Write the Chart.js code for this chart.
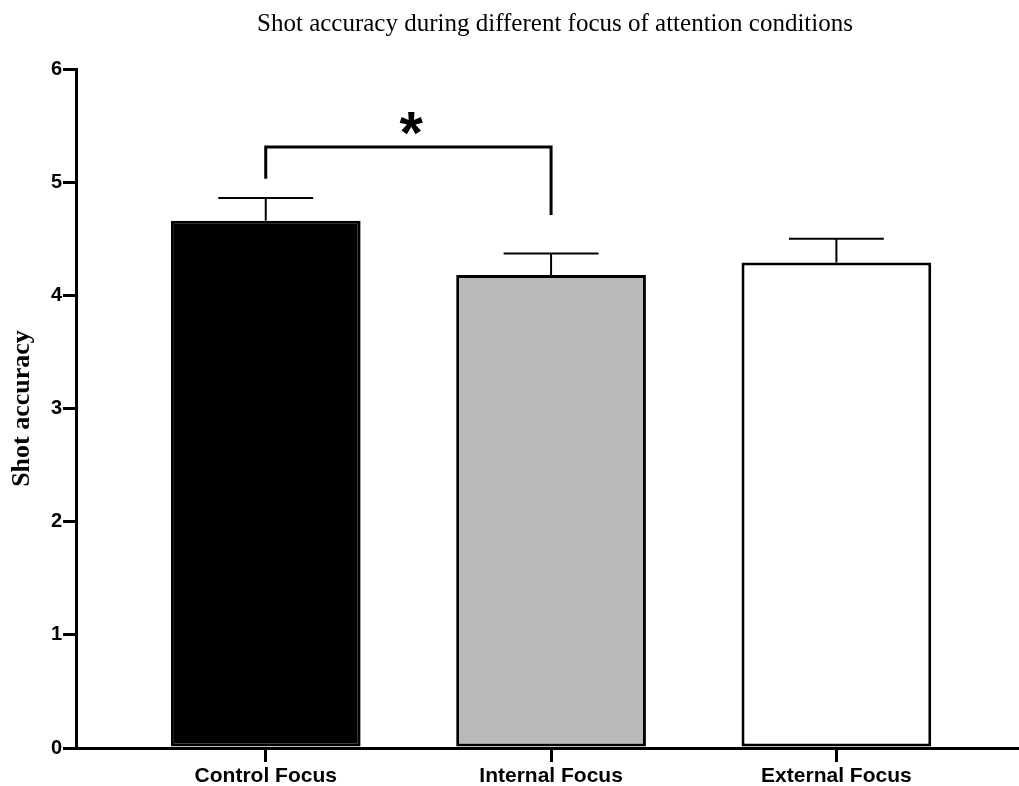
<!DOCTYPE html>
<html>
<head>
<meta charset="utf-8">
<title>Shot accuracy</title>
<script src="https://cdn.jsdelivr.net/npm/chart.js@4.4.1/dist/chart.umd.min.js"></script>
<style>
  html, body { margin: 0; padding: 0; background: #fff; }
  canvas { display: block; }
</style>
</head>
<body>
<canvas id="accuracyChart" width="1019" height="786"></canvas>
<script>
const conditions = ['Control Focus', 'Internal Focus', 'External Focus'];
const meanAccuracy = [4.66, 4.18, 4.29];
const semAccuracy = [0.2, 0.19, 0.21];
const yTicks = [0, 1, 2, 3, 4, 5, 6];

// significance bracket (Control vs Internal), heights in y units
const sigPair = [0, 1];
const sigBracketTop = 5.31;
const sigLegEnds = [5.03, 4.71];
const sigLabelLevel = 5.52;
const sigLabel = '*';

const chartTitle = 'Shot accuracy during different focus of attention conditions';

// upper error bars only, cap half as wide as the bar
const errorBars = {
  id: 'errorBars',
  afterDatasetsDraw(chart) {
    const ctx = chart.ctx;
    const y = chart.scales.y;
    const meta = chart.getDatasetMeta(0);
    ctx.save();
    ctx.strokeStyle = '#000';
    ctx.lineWidth = 2;
    meta.data.forEach((bar, i) => {
      const top = y.getPixelForValue(meanAccuracy[i] + semAccuracy[i]);
      const half = bar.width / 4;
      ctx.beginPath();
      ctx.moveTo(bar.x, bar.y);
      ctx.lineTo(bar.x, top);
      ctx.moveTo(bar.x - half, top);
      ctx.lineTo(bar.x + half, top);
      ctx.stroke();
    });
    ctx.restore();
  }
};

const sigBracket = {
  id: 'sigBracket',
  afterDatasetsDraw(chart) {
    const {ctx, scales: {x, y}} = chart;
    const x0 = x.getPixelForValue(sigPair[0]);
    const x1 = x.getPixelForValue(sigPair[1]);
    const top = y.getPixelForValue(sigBracketTop);
    ctx.save();
    ctx.strokeStyle = '#000';
    ctx.lineWidth = 3;
    ctx.lineJoin = 'miter';
    ctx.beginPath();
    ctx.moveTo(x0, y.getPixelForValue(sigLegEnds[0]));
    ctx.lineTo(x0, top);
    ctx.lineTo(x1, top);
    ctx.lineTo(x1, y.getPixelForValue(sigLegEnds[1]));
    ctx.stroke();

    ctx.fillStyle = '#000';
    ctx.font = 'bold 60px "Liberation Sans"';
    ctx.textAlign = 'left';
    ctx.textBaseline = 'alphabetic';
    const m = ctx.measureText(sigLabel);
    const cx = (x0 + x1) / 2 + 3;
    const cy = y.getPixelForValue(sigLabelLevel);
    const w = m.actualBoundingBoxRight + m.actualBoundingBoxLeft;
    ctx.fillText(sigLabel, cx - w / 2 + m.actualBoundingBoxLeft,
      cy + (m.actualBoundingBoxAscent - m.actualBoundingBoxDescent) / 2);
    ctx.restore();
  }
};

const titleText = {
  id: 'titleText',
  afterDraw(chart) {
    const ctx = chart.ctx;
    ctx.save();
    ctx.fillStyle = '#000';
    ctx.font = '25px "Liberation Serif"';
    ctx.textAlign = 'center';
    ctx.textBaseline = 'middle';
    ctx.fillText(chartTitle, 555, 24);
    ctx.restore();
  }
};

new Chart(document.getElementById('accuracyChart'), {
  type: 'bar',
  data: {
    datasets: [{
      label: 'Shot accuracy',
      data: meanAccuracy.map((v, i) => ({x: i, y: v})),
      backgroundColor: ['#000000', '#b8b9b8', '#ffffff'],
      borderColor: '#000',
      borderWidth: 3,
      borderSkipped: false,
      barPercentage: 0.665,
      categoryPercentage: 1
    }]
  },
  options: {
    responsive: false,
    animation: false,
    layout: {padding: {top: 69, right: 0, bottom: 0, left: 0}},
    plugins: {
      legend: {display: false},
      tooltip: {enabled: false},
      title: {display: false}
    },
    scales: {
      x: {
        type: 'linear',
        min: -0.665,
        max: 2.64,
        offset: false,
        afterFit: s => { s.height = 38; },
        afterBuildTicks: s => { s.ticks = conditions.map((c, i) => ({value: i})); },
        border: {display: true, color: '#000', width: 3},
        grid: {offset: false, drawOnChartArea: false, drawTicks: true, tickLength: 14, color: '#000', lineWidth: 3},
        ticks: {
          color: '#000',
          padding: 2,
          maxRotation: 0,
          font: {family: '"Liberation Sans"', weight: 'bold', size: 21},
          callback: v => conditions[v]
        }
      },
      y: {
        min: 0,
        max: 6,
        afterFit: s => { s.width = 76; },
        afterBuildTicks: s => { s.ticks = yTicks.map(v => ({value: v})); },
        border: {display: true, color: '#000', width: 3},
        grid: {drawOnChartArea: false, drawTicks: true, tickLength: 13, color: '#000', lineWidth: 3},
        ticks: {
          color: '#000',
          padding: 1,
          font: {family: '"Liberation Sans"', weight: 'bold', size: 20}
        },
        title: {
          display: true,
          text: 'Shot accuracy',
          color: '#000',
          padding: {top: 7, bottom: 0},
          font: {family: '"Liberation Serif"', weight: 'bold', size: 26}
        }
      }
    }
  },
  plugins: [errorBars, sigBracket, titleText]
});
</script>
</body>
</html>
